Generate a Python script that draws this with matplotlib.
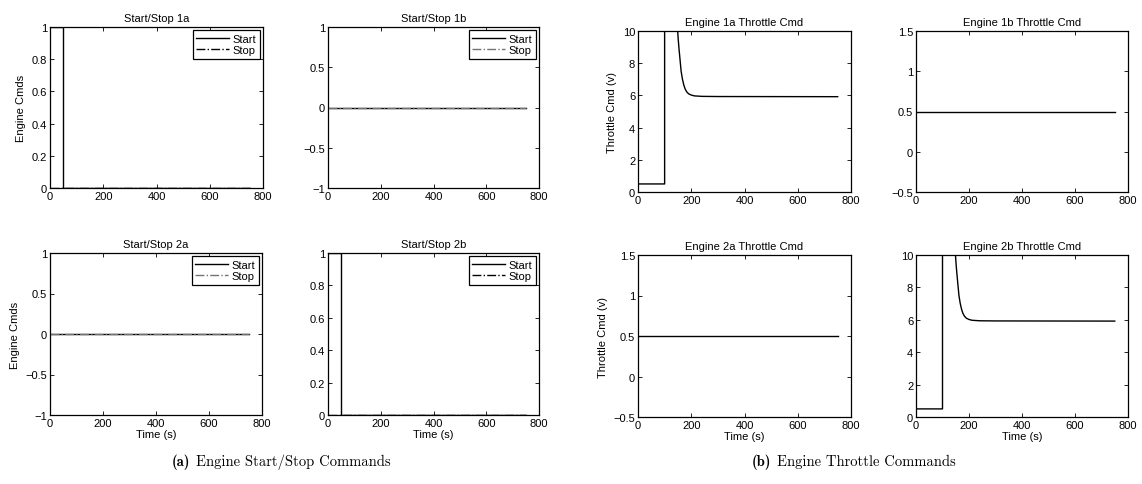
import matplotlib
matplotlib.use("Agg")
import matplotlib.pyplot as plt
from matplotlib.ticker import FuncFormatter

plt.rcParams['font.family'] = ['Liberation Sans', 'DejaVu Sans']
plt.rcParams['font.size'] = 8

# start/stop commands (time, value)
t_on = [0, 50, 50, 750]
start_on = [1, 1, 0, 0]
t_off = [0, 750]
start_off = [0, 0]
stop_vals = [0, 0]

# throttle commands (time, volts)
t_thr = [0, 100, 100, 149, 151, 154, 158, 162, 167, 172, 177, 183, 190, 200, 212, 240, 300, 750]
thr_run = [0.5, 0.5, 12, 10, 9.5, 8.9, 8.2, 7.5, 7.0, 6.65, 6.4, 6.22, 6.1, 6.02, 5.97, 5.94, 5.93, 5.92]
t_idle = [0, 750]
thr_idle = [0.5, 0.5]

W, H = 1142, 485


def box(l, t, r, b):
    return [l / W, 1 - b / H, (r - l) / W, (b - t) / H]


def fmt(v, pos):
    return ('%g' % v).replace('-', '\u2212')


def style(ax, xlabel, ylabel, ylim, yticks):
    ax.set_xlim(0, 800)
    ax.set_xticks([0, 200, 400, 600, 800])
    ax.set_ylim(*ylim)
    ax.set_yticks(yticks)
    ax.yaxis.set_major_formatter(FuncFormatter(fmt))
    ax.tick_params(direction='in', top=True, right=True, length=3, width=0.6, pad=2)
    for s in ax.spines.values():
        s.set_linewidth(0.9)
    if xlabel:
        ax.set_xlabel(xlabel, labelpad=1)
    if ylabel:
        ax.set_ylabel(ylabel, labelpad=4)


fig = plt.figure(figsize=(W / 100, H / 100), dpi=100)

ss = [
    ('Start/Stop 1a', box(50, 28, 263, 189), True, 'Engine Cmds', None),
    ('Start/Stop 1b', box(328, 28, 539, 189), False, None, None),
    ('Start/Stop 2a', box(50, 254, 262, 416), False, 'Engine Cmds', 'Time (s)'),
    ('Start/Stop 2b', box(328, 254, 539, 416), True, None, 'Time (s)'),
]
for title, pos, on, yl, xl in ss:
    ax = fig.add_axes(pos)
    if on:
        ax.plot(t_on, start_on, color='black', lw=1.0, label='Start')
        ax.plot(t_off, stop_vals, color='black', lw=1.0, ls='-.', label='Stop')
        style(ax, xl, yl, (0, 1), [0, 0.2, 0.4, 0.6, 0.8, 1])
    else:
        ax.plot(t_off, start_off, color='black', lw=1.0, label='Start')
        ax.plot(t_off, stop_vals, color='0.45', lw=1.0, ls='-.', label='Stop')
        style(ax, xl, yl, (-1, 1), [-1, -0.5, 0, 0.5, 1])
    ax.set_title(title, fontsize=8, pad=4)
    leg = ax.legend(loc='upper right', fancybox=False, edgecolor='black',
                    handlelength=3.0, borderpad=0.3, labelspacing=0.15,
                    handletextpad=0.3, borderaxespad=0.3, framealpha=1)
    leg.get_frame().set_linewidth(0.9)

th = [
    ('Engine 1a Throttle Cmd', box(638, 32, 851, 193), True, 'Throttle Cmd (v)', None),
    ('Engine 1b Throttle Cmd', box(916, 32, 1128, 193), False, None, None),
    ('Engine 2a Throttle Cmd', box(638, 256, 851, 418), False, 'Throttle Cmd (v)', 'Time (s)'),
    ('Engine 2b Throttle Cmd', box(916, 256, 1128, 418), True, None, 'Time (s)'),
]
for title, pos, run, yl, xl in th:
    ax = fig.add_axes(pos)
    if run:
        ax.plot(t_thr, thr_run, color='black', lw=1.0)
        style(ax, xl, yl, (0, 10), [0, 2, 4, 6, 8, 10])
    else:
        ax.plot(t_idle, thr_idle, color='black', lw=1.0)
        style(ax, xl, yl, (-0.5, 1.5), [-0.5, 0, 0.5, 1, 1.5])
    ax.set_title(title, fontsize=8, pad=4)

cy = 1 - 462 / H
fs = 10.5
fig.text(190 / W, cy, '(a)', family='cmb10', fontsize=fs, ha='right', va='center')
fig.text(196 / W, cy, 'Engine Start/Stop Commands', family='cmr10', fontsize=fs,
         ha='left', va='center')
fig.text(771 / W, cy, '(b)', family='cmb10', fontsize=fs, ha='right', va='center')
fig.text(777 / W, cy, 'Engine Throttle Commands', family='cmr10', fontsize=fs,
         ha='left', va='center')

fig.savefig('out.png', dpi=100)
